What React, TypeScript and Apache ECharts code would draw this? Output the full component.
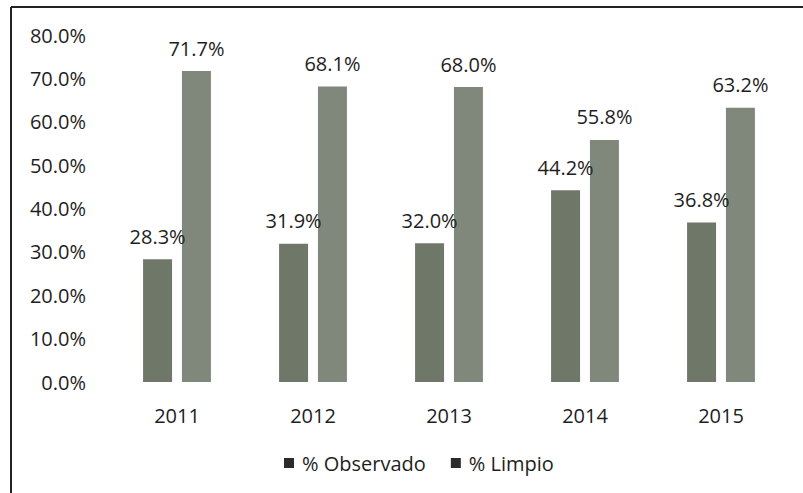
import React, { useEffect, useRef } from "react";
import * as echarts from "echarts";

const categories = ["2011", "2012", "2013", "2014", "2015"];
const observado = [28.3, 31.9, 32.0, 44.2, 36.8];
const limpio = [71.7, 68.1, 68.0, 55.8, 63.2];
const seriesNames = ["% Observado", "% Limpio"];

const FONT = "'Open Sans', 'Noto Sans', sans-serif";
const FS = 20;

export default function App() {
  const ref = useRef<HTMLDivElement>(null);
  useEffect(() => {
    if (!ref.current) return;
    const chart = echarts.init(ref.current, null, { renderer: "svg" });
    const label = {
      show: true,
      position: "top" as const,
      distance: 13,
      formatter: (p: any) => Number(p.value).toFixed(1) + "%",
      color: "#1e1e1e",
      fontSize: FS,
      fontFamily: FONT,
    };
    chart.setOption({
      animation: false,
      backgroundColor: "#fff",
      textStyle: { fontFamily: FONT },
      grid: { left: 109, right: 14, top: 35, bottom: 111, containLabel: false },
      legend: {
        data: [
          { name: seriesNames[0], itemStyle: { color: "#2b2b2b" } },
          { name: seriesNames[1], itemStyle: { color: "#2b2b2b" } },
        ],
        left: 279,
        top: 448,
        itemWidth: 10,
        itemHeight: 10,
        itemGap: 25,
        icon: "rect",
        textStyle: { color: "#1e1e1e", fontSize: FS, fontFamily: FONT, padding: [0, 0, 0, 3] },
      },
      xAxis: {
        type: "category",
        data: categories,
        axisLine: { show: false },
        axisTick: { show: false },
        axisLabel: { color: "#1e1e1e", fontSize: FS, fontFamily: FONT, margin: 23 },
      },
      yAxis: {
        type: "value",
        min: 0,
        max: 80,
        interval: 10,
        axisLine: { show: false },
        axisTick: { show: false },
        splitLine: { show: false },
        axisLabel: {
          color: "#1e1e1e",
          fontSize: FS,
          fontFamily: FONT,
          margin: 23,
          formatter: (v: number) => v.toFixed(1) + "%",
        },
      },
      series: [
        {
          name: seriesNames[0],
          type: "bar",
          data: observado,
          barWidth: 29,
          barGap: "34%",
          itemStyle: { color: "#6f7769" },
          label,
        },
        {
          name: seriesNames[1],
          type: "bar",
          data: limpio,
          barWidth: 29,
          itemStyle: { color: "#80887b" },
          label,
        },
      ],
      graphic: [
        {
          type: "line",
          shape: { x1: 11, y1: 7, x2: 803, y2: 7 },
          style: { stroke: "#222", lineWidth: 2 },
        },
        {
          type: "line",
          shape: { x1: 11, y1: 7, x2: 11, y2: 493 },
          style: { stroke: "#222", lineWidth: 2 },
        },
      ],
    });
    return () => chart.dispose();
  }, []);
  return <div ref={ref} style={{ width: 803, height: 493, position: "absolute", left: 0, top: 0 }} />;
}
